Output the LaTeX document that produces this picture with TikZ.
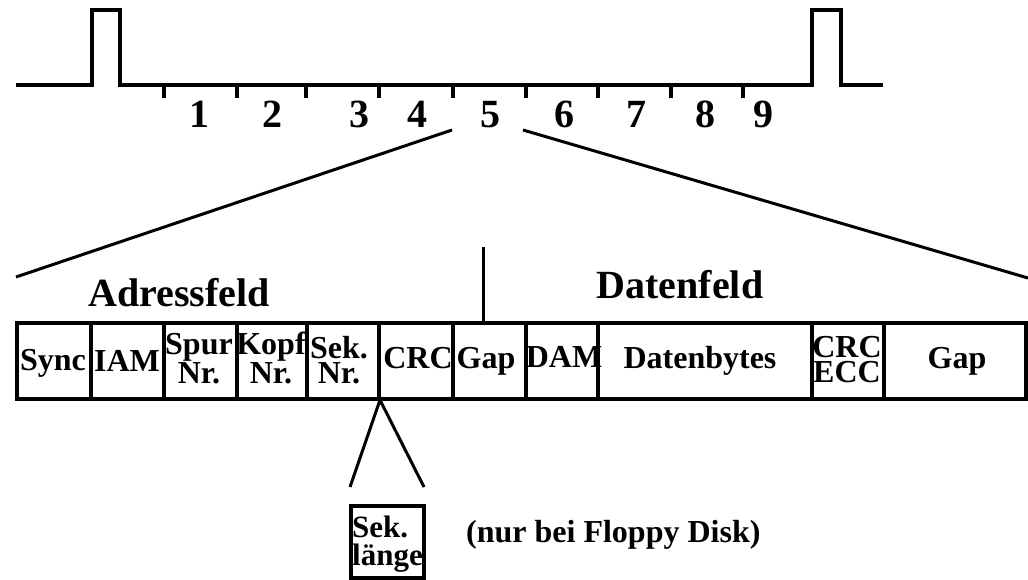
\documentclass[tikz,border=0pt]{standalone}
\usepackage{fontspec}
\setmainfont{Liberation Serif}
\begin{document}
\begin{tikzpicture}[x=1pt,y=-1pt,
  wave/.style={line width=4pt, line join=miter},
  tickmark/.style={line width=4pt},
  fan/.style={line width=3pt},
  cell/.style={draw, line width=4.5pt, minimum height=76pt, inner sep=0pt},
  lbl/.style={font=\fontsize{32}{25}\selectfont\bfseries, inner sep=0pt, align=center, anchor=base},
  big/.style={font=\fontsize{40}{40}\selectfont\bfseries, inner sep=0pt, anchor=base}]
\useasboundingbox (0,0) rectangle (1028,580);
% waveform
\draw[wave] (16,85) -- (92,85) -- (92,10) -- (120,10) -- (120,85) -- (812,85) -- (812,10) -- (841,10) -- (841,85) -- (883,85);
\foreach \x in {164,237,306,379,453,526,598,671,743}
  \draw[tickmark] (\x,85) -- (\x,98);
% sector numbers
\node[big] (n1) at (199,128) {1};
\node[big] (n2) at (272,128) {2};
\node[big] (n3) at (359,128) {3};
\node[big] (n4) at (417,128) {4};
\node[big] (n5) at (490,128) {5};
\node[big] (n6) at (564,128) {6};
\node[big] (n7) at (636,128) {7};
\node[big] (n8) at (705,128) {8};
\node[big] (n9) at (763,128) {9};
% fan
\coordinate (fL1) at (452,130);
\coordinate (fL2) at (16,277);
\coordinate (fR1) at (523,130);
\coordinate (fR2) at (1028,278);
\draw[fan] (fL1) -- (fL2);
\draw[fan] (fR1) -- (fR2);
% field titles
\node[big] (adr) at (179,306) {Adressfeld};
\node[big] (dat) at (680,298) {Datenfeld};
% cells
\node[cell, minimum width=74pt] (c1) at (54,361) {};
\node[cell, minimum width=73pt] (c2) at (127.5,361) {};
\node[cell, minimum width=73pt] (c3) at (200.5,361) {};
\node[cell, minimum width=70pt] (c4) at (272,361) {};
\node[cell, minimum width=72pt] (c5) at (343,361) {};
\node[cell, minimum width=74pt] (c6) at (416,361) {};
\node[cell, minimum width=73pt] (c7) at (489.5,361) {};
\node[cell, minimum width=72pt] (c8) at (562,361) {};
\node[cell, minimum width=214pt] (c9) at (705,361) {};
\node[cell, minimum width=72pt] (c10) at (848,361) {};
\node[cell, minimum width=142pt] (c11) at (955,361) {};
% divider line
\coordinate (dv) at (483,247);
\draw[fan] (dv) -- (dv |- c7.north);
% labels
\node[lbl] (t1) at (53,370) {Sync};
\node[lbl] (t2) at (127,371) {IAM};
\node[lbl] (t3) at (199,383) {Spur\\Nr.};
\node[lbl] (t4) at (271,383) {Kopf\\Nr.};
\node[lbl] (t5) at (339,383) {Sek.\\Nr.};
\node[lbl] (t6) at (418,368) {CRC};
\node[lbl] (t7) at (486,368) {Gap};
\node[lbl] (t8) at (564,367) {DAM};
\node[lbl] (t9) at (700,368) {Datenbytes};
\node[lbl] (t10) at (847,382) {CRC\\ECC};
\node[lbl] (t11) at (957,368) {Gap};
% Sek. laenge
\coordinate (vtop) at (380,400);
\coordinate (vl) at (350,487);
\coordinate (vr) at (424,487);
\draw[fan] (vl) -- (vtop) -- (vr);
\node[draw, line width=4.5pt, minimum width=73pt, minimum height=72pt, inner sep=0pt] (sl) at (387.5,542) {};
\node[font=\fontsize{31}{28}\selectfont\bfseries, inner sep=0pt, align=left, anchor=base west] (slt) at (352,565) {Sek.\\länge};
\node[font=\fontsize{32}{32}\selectfont\bfseries, inner sep=0pt, anchor=base west] (note) at (466,542) {(nur bei Floppy Disk)};
\end{tikzpicture}
\end{document}
